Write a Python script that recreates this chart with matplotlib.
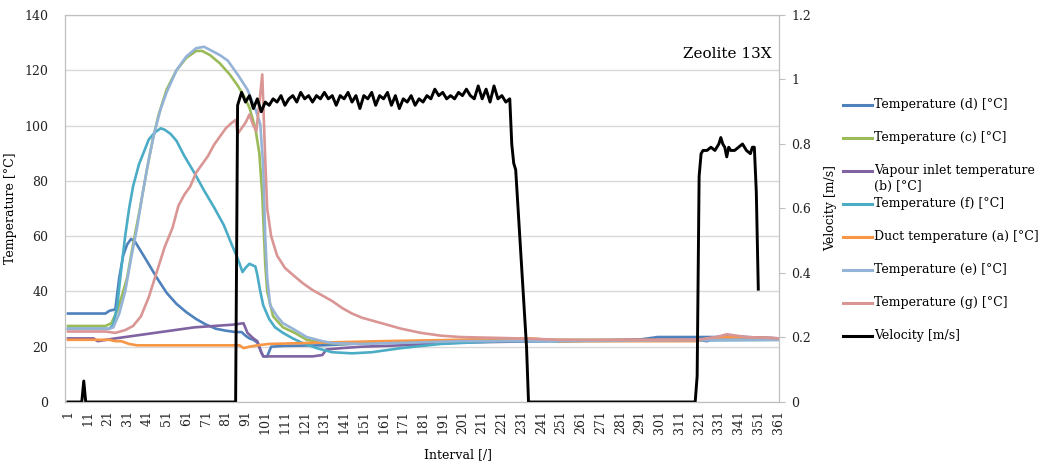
import matplotlib
matplotlib.use("Agg")
import matplotlib.pyplot as plt
from matplotlib.lines import Line2D
from matplotlib.ticker import FuncFormatter

plt.rcParams['font.family'] = ['DejaVu Serif']

# ---- data (interval, value) ----
d_x = [1, 20, 22, 25, 27, 29, 31, 33, 35, 41, 46, 51, 56, 61, 66, 71, 76, 81, 86, 89, 91, 93, 95, 97, 99, 100, 102, 104, 110, 130, 150, 180, 220, 240, 250, 290, 300, 330, 335, 345, 362]
d_y = [32, 32, 33, 33.5, 45, 53, 57, 59, 58, 51, 45, 39.5, 35.5, 32.5, 30, 28, 26.5, 25.8, 25.3, 25.3, 24, 23, 22.5, 21.5, 18, 16.5, 16.5, 20, 20.3, 20.5, 21.2, 22, 22.5, 22.5, 22, 22.5, 23.5, 23.5, 24, 23.5, 23]

c_x = [1, 20, 23, 26, 29, 31, 34, 37.5, 41, 44, 47, 51, 56, 61, 66, 69, 73, 78, 83, 87, 90, 93, 96, 98, 99.5, 101, 102, 105, 110, 116, 122, 130, 140, 160, 200, 240, 362]
c_y = [27.5, 27.5, 28.5, 33, 40, 45, 57, 70, 84, 95, 104, 113, 120, 124.5, 127, 127, 125.5, 122.5, 118.5, 114.5, 111, 106.5, 99, 90, 75, 50, 40, 31, 27, 25, 22.5, 21.5, 21, 21.5, 22, 22.5, 22.5]

b_x = [1, 14, 16, 25, 35, 45, 55, 65, 75, 85, 90, 92, 95, 97, 99, 100, 125, 130, 132, 140, 150, 170, 200, 240, 290, 320, 325, 330, 340, 362]
b_y = [23, 23, 22, 23, 24, 25, 26, 27, 27.5, 28, 28.5, 25, 23, 22, 18, 16.5, 16.5, 17, 19, 19.5, 20, 20.5, 21.5, 22, 22.5, 22.5, 22, 23.5, 23.5, 23]

f_x = [1, 22, 24, 26, 28, 30, 32, 34, 37, 42, 45, 48, 50, 53, 56, 60, 65, 70, 75, 80, 84, 87, 89.5, 91, 93, 96, 97, 98.5, 100, 103, 106, 110, 115, 120, 127, 135, 145, 155, 170, 190, 220, 250, 362]
f_y = [26.5, 26.5, 28, 35, 48, 60, 70, 78, 86, 95, 97.5, 99, 98.5, 97, 94.5, 89, 83, 76.5, 70.5, 64, 57, 52, 47, 48.5, 50, 49, 46, 40, 35, 30, 27, 25, 23, 21.3, 19.5, 18, 17.6, 18, 19.5, 21, 22, 22, 22.5]

a_x = [1, 22, 25, 28, 32, 36, 88, 90, 93, 97, 103, 130, 160, 200, 220, 236, 245, 250, 320, 325, 333, 340, 362]
a_y = [22.5, 22.5, 22, 22, 21, 20.5, 20.5, 19.5, 20, 20.5, 21, 21.5, 22, 22.5, 23, 23, 22.5, 22, 22, 23, 23.5, 23.5, 23]

e_x = [1, 22, 24, 27, 30, 33, 36, 39, 42, 45, 48, 51, 56, 61, 66, 70, 74, 78, 82, 87, 92, 96, 98.5, 100, 101, 102, 103.5, 107, 110, 115, 122, 130, 135, 150, 200, 362]
e_y = [26.5, 26.5, 27, 32, 40, 52, 63, 76, 88, 98, 106, 112, 120, 125, 128, 128.5, 127, 125.5, 123.5, 118.5, 113, 106, 100.5, 85, 60, 45, 35, 31, 28.5, 26.5, 23.5, 22, 21.3, 21, 22, 22.5]

g_x = [1, 20, 25, 30, 34, 38, 42, 46, 50, 54, 57, 60, 63, 66, 69, 72, 75, 78, 81, 84, 86, 87, 89, 91, 93, 95, 96.5, 98, 99.5, 101, 102, 104, 107, 111, 115, 120, 125, 130, 135, 140, 145, 150, 155, 160, 170, 180, 190, 200, 230, 250, 320, 330, 335, 345, 362]
g_y = [25.5, 25.5, 25, 26, 27.5, 31, 38, 47, 56, 63, 71, 75, 78, 83, 86, 89, 93, 96, 99, 101, 102, 97, 99, 101, 104, 100, 98, 108, 118.5, 88, 70, 60, 53, 48.5, 46, 43, 40.5, 38.5, 36.5, 34, 32, 30.5, 29.5, 28.5, 26.5, 25, 24, 23.5, 23, 22.5, 22.5, 23.5, 24.5, 23.5, 23]

vel_x = [1, 8, 9, 10, 86, 87, 89, 91, 93, 95, 97, 99, 101, 103, 105, 107, 109, 111, 113, 115, 117, 119, 121, 123, 125,
         127, 129, 131, 133, 135, 137, 139, 141, 143, 145, 147, 149, 151, 153, 155, 157, 159, 161, 163, 165, 167, 169,
         171, 173, 175, 177, 179, 181, 183, 185, 187, 189, 191, 193, 195, 197, 199, 201, 203, 205, 207, 209, 211, 213,
         215, 217, 219, 221, 223, 225, 226, 227, 228, 233.5, 234.5, 319, 320, 321, 322, 323, 325, 327, 329, 331, 332,
         333, 334, 335, 336, 337, 339, 341, 343, 345, 347, 348, 349, 350, 351]
vel_y = [0, 0, 0.065, 0, 0, 0.92, 0.96, 0.93, 0.95, 0.91, 0.94, 0.90, 0.93, 0.92, 0.94, 0.93, 0.95, 0.92, 0.94, 0.95, 0.93, 0.96, 0.94, 0.95, 0.93,
         0.95, 0.94, 0.96, 0.94, 0.95, 0.92, 0.95, 0.94, 0.96, 0.93, 0.95, 0.91, 0.95, 0.94, 0.96, 0.92, 0.95, 0.94, 0.96, 0.92, 0.95, 0.91,
         0.94, 0.93, 0.95, 0.92, 0.94, 0.93, 0.95, 0.94, 0.97, 0.95, 0.96, 0.94, 0.95, 0.94, 0.96, 0.95, 0.97, 0.95, 0.94, 0.98, 0.94, 0.97,
         0.93, 0.98, 0.94, 0.95, 0.93, 0.94, 0.80, 0.74, 0.72, 0.17, 0, 0, 0.08, 0.70, 0.77, 0.78, 0.78, 0.79, 0.78, 0.80, 0.82,
         0.80, 0.79, 0.76, 0.79, 0.78, 0.78, 0.79, 0.80, 0.78, 0.77, 0.79, 0.79, 0.65, 0.35]

temp_series = [
    ("Temperature (d) [°C]", d_x, d_y, "#4F81BD"),
    ("Temperature (c) [°C]", c_x, c_y, "#9BBB59"),
    ("Vapour inlet temperature\n(b) [°C]", b_x, b_y, "#8064A2"),
    ("Temperature (f) [°C]", f_x, f_y, "#4BACC6"),
    ("Duct temperature (a) [°C]", a_x, a_y, "#F79646"),
    ("Temperature (e) [°C]", e_x, e_y, "#95B3D7"),
    ("Temperature (g) [°C]", g_x, g_y, "#D99694"),
]

fig = plt.figure(figsize=(10.42, 4.67), dpi=100)
ax = fig.add_axes([0.0624, 0.1392, 0.6852, 0.8287])
ax2 = ax.twinx()

for label, xs, ys, col in temp_series:
    ax.plot(xs, ys, color=col, lw=1.9, solid_joinstyle='round')
ax2.plot(vel_x, vel_y, color="black", lw=2.1, solid_joinstyle='round')

ax.set_xlim(-0.5, 361.5)
ax.set_ylim(0, 140)
ax2.set_ylim(0, 1.2)
ax.set_yticks(range(0, 141, 20))
ax2.set_yticks([0, 0.2, 0.4, 0.6, 0.8, 1.0, 1.2])
ax2.yaxis.set_major_formatter(FuncFormatter(lambda v, p: "%g" % v))
ax.set_xticks(range(1, 362, 10))
ax.set_xticklabels([str(i) for i in range(1, 362, 10)], rotation=90)

ax.grid(axis='y', color="#D9D9D9", lw=1)
ax.set_axisbelow(True)
for a in (ax, ax2):
    for s in a.spines.values():
        s.set_color("#BFBFBF")
ax.tick_params(axis='y', length=0, labelsize=9, pad=12, colors='#222222')
ax.tick_params(axis='x', length=0, labelsize=9, pad=6, colors='#222222')
ax2.tick_params(axis='y', length=4, color="#BFBFBF", labelsize=9, pad=5, labelcolor='#222222')

ax.set_ylabel("Temperature [°C]", fontsize=9, labelpad=5)
ax2.set_ylabel("Velocity [m/s]", fontsize=9, labelpad=9)
fig.text(0.4395, 0.026, "Interval [/]", ha='center', va='center', fontsize=9)
ax.text(0.99, 0.90, "Zeolite 13X", transform=ax.transAxes, ha='right', va='center', fontsize=11)

# manual legend, Excel style
entries = [(lab, col) for lab, _, _, col in temp_series] + [("Velocity [m/s]", "black")]
y0 = 1 - 105 / 467
step = 33 / 467
for i, (lab, col) in enumerate(entries):
    y = y0 - i * step
    fig.add_artist(Line2D([0.809, 0.837], [y, y], transform=fig.transFigure, color=col, lw=2.2))
    fig.text(0.839, y + 0.015, lab, ha='left', va='top', fontsize=9, linespacing=1.3)

fig.savefig("out.png", dpi=100)
